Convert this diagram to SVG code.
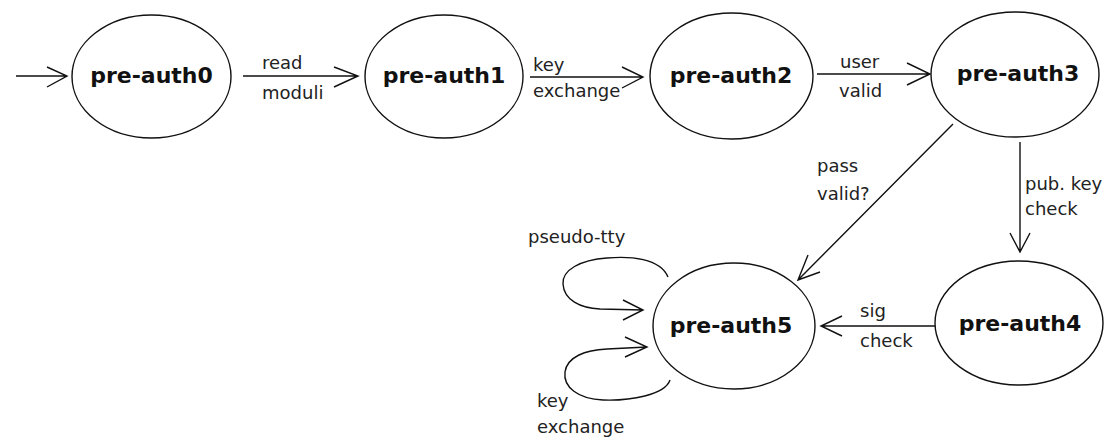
<svg xmlns="http://www.w3.org/2000/svg" width="1111" height="439" viewBox="0 0 1111 439">
<style>
.node ellipse{fill:#fff;stroke:#111;stroke-width:1.4}
.node text{font-family:"DejaVu Sans",Verdana,sans-serif;font-weight:bold;font-size:22px;fill:#111;text-anchor:middle}
.edge{fill:none;stroke:#111;stroke-width:1.4}
.lbl{font-family:"DejaVu Sans",Verdana,sans-serif;font-size:18px;fill:#222}
</style>
<rect width="1111" height="439" fill="#fff"/>
<g id="connectors">
<path class="edge" d="M16,76 H67 M47,67 L67,76 L47,87"/>
<path class="edge" d="M243,76 H358 M334,67 L358,76 L334,87"/>
<path class="edge" d="M530,77 H643 M622,67 L643,77 L622,88"/>
<path class="edge" d="M817,74 H930 M907,63 L930,74 L907,85"/>
<path class="edge" d="M953,124 L798,280 M808,255 L798,280 L820,272"/>
<path class="edge" d="M1020,142 V252 M1010,233 L1020,252 L1030,233"/>
<path class="edge" d="M935,326 H821 M842,316 L821,326 L842,336"/>
<path class="edge" d="M668,277 C660,258 630,256 607,258 C580,260 562,270 563,284 C564,300 580,308 600,309 L643,310 M623,300 L643,310 L623,320"/>
<path class="edge" d="M670,380 C665,395 630,401 603,400 C578,399 563,387 565,372 C567,357 585,350 607,349 L647,347 M625,337 L647,347 L625,357"/>
<text class="lbl" x="262" y="69">read</text>
<text class="lbl" x="262" y="99">moduli</text>
<text class="lbl" x="533" y="71">key</text>
<text class="lbl" x="533" y="97">exchange</text>
<text class="lbl" x="840" y="68">user</text>
<text class="lbl" x="839" y="97">valid</text>
<text class="lbl" x="817" y="172">pass</text>
<text class="lbl" x="817" y="200">valid?</text>
<text class="lbl" x="1025" y="190">pub. key</text>
<text class="lbl" x="1025" y="215">check</text>
<text class="lbl" x="860" y="317">sig</text>
<text class="lbl" x="860" y="347">check</text>
<text class="lbl" x="528" y="243">pseudo-tty</text>
<text class="lbl" x="537" y="407">key</text>
<text class="lbl" x="537" y="433">exchange</text>
</g>
<g id="pre-auth0" class="node"><ellipse cx="151.5" cy="76.5" rx="79.5" ry="61.5"/><text x="151.5" y="83">pre-auth0</text></g>
<g id="pre-auth1" class="node"><ellipse cx="444" cy="76.5" rx="79" ry="61.5"/><text x="444" y="83">pre-auth1</text></g>
<g id="pre-auth2" class="node"><ellipse cx="731.5" cy="76" rx="81.5" ry="63"/><text x="731" y="83">pre-auth2</text></g>
<g id="pre-auth3" class="node"><ellipse cx="1015" cy="74.5" rx="84" ry="62.5"/><text x="1018" y="81">pre-auth3</text></g>
<g id="pre-auth4" class="node"><ellipse cx="1019" cy="323" rx="84" ry="62"/><text x="1020" y="331">pre-auth4</text></g>
<g id="pre-auth5" class="node"><ellipse cx="734" cy="326" rx="81" ry="63"/><text x="731" y="333">pre-auth5</text></g>
</svg>
